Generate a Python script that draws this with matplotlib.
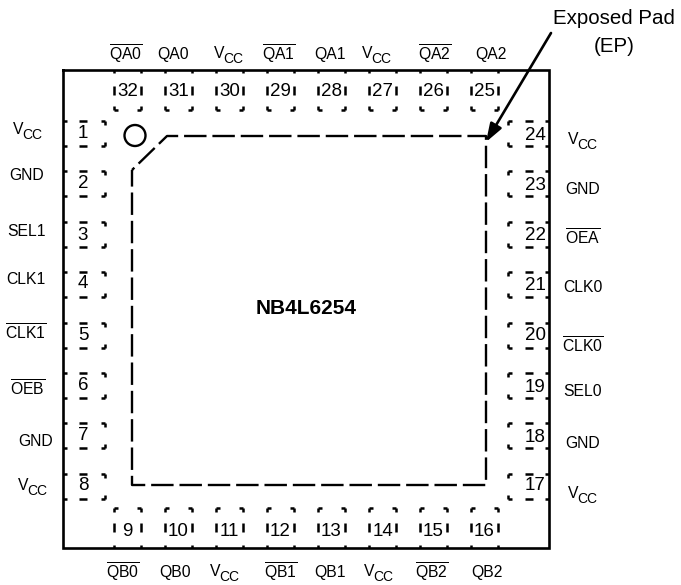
# -*- coding: utf-8 -*-
import matplotlib
matplotlib.use('Agg')
import matplotlib.pyplot as plt
from matplotlib.patches import Circle

plt.rcParams['font.family'] = ['Liberation Sans', 'DejaVu Sans']
plt.rcParams['mathtext.fontset'] = 'custom'
plt.rcParams['mathtext.rm'] = 'Liberation Sans'
plt.rcParams['mathtext.default'] = 'regular'

# pin names
VCC = 'VCC'


def bar(name):
    return r'$\overline{' + name + '}$'


TOP_LABELS = [bar('QA0'), 'QA0', VCC, bar('QA1'), 'QA1', VCC, bar('QA2'), 'QA2']
BOTTOM_LABELS = [bar('QB0'), 'QB0', VCC, bar('QB1'), 'QB1', VCC, bar('QB2'), 'QB2']
LEFT_LABELS = [VCC, 'GND', 'SEL1', 'CLK1', bar('CLK1'), bar('OEB'), 'GND', VCC]
RIGHT_LABELS = [VCC, 'GND', bar('OEA'), 'CLK0', bar('CLK0'), 'SEL0', 'GND', VCC]

# pin numbers
TOP_PINS = [32, 31, 30, 29, 28, 27, 26, 25]
BOTTOM_PINS = [9, 10, 11, 12, 13, 14, 15, 16]
LEFT_PINS = [1, 2, 3, 4, 5, 6, 7, 8]
RIGHT_PINS = [24, 23, 22, 21, 20, 19, 18, 17]

# label centres, pixels
TOP_LABEL_X = [126, 173, 229, 279, 330, 377, 435, 491]
BOTTOM_LABEL_X = [123, 175, 225, 281, 330, 379, 432, 487]
LEFT_LABEL_X = [28, 27, 26, 26, 26, 28, 36, 33]
LEFT_LABEL_Y = [132, 175, 231, 279, 333, 389, 441, 488]
RIGHT_LABEL_Y = [142, 190, 238, 288, 346, 392, 443, 496]
LEFT_NUM_Y = [133, 184, 236, 283, 336, 386, 436, 486]
RIGHT_NUM_Y = [135, 185, 235, 285, 336, 387, 438, 486]

# package geometry, pixels
BOX_L, BOX_T, BOX_R, BOX_B = 63, 70, 549, 548
PAD_X0 = 114
PAD_Y0 = 121
PAD_PITCH_X = 51.0
PAD_PITCH_Y = 50.4
LW = 1.8
LABEL_SIZE = 11.3

fig = plt.figure(figsize=(6.81, 5.85), dpi=100)
ax = fig.add_axes([0, 0, 1, 1])
ax.set_xlim(0, 681)
ax.set_ylim(585, 0)
ax.axis('off')


def seg(x, y, lw=LW):
    ax.plot(x, y, color='black', lw=lw, solid_capstyle='butt', solid_joinstyle='miter')


def horizontal_pad(x0, outer, inner):
    # top and bottom row pads: corners on the inner edge, ticks on the sides
    x1 = x0 + 27
    s = 1 if inner > outer else -1
    for x in (x0, x1):
        seg([x, x], [outer, outer + s * 3])
        seg([x, x], [outer + s * 16, outer + s * 25])
        seg([x, x], [inner - s * 4, inner])
    seg([x0, x0 + 4], [inner, inner])
    seg([x1 - 4, x1], [inner, inner])


def vertical_pad(y0, outer, inner):
    # left and right column pads: corners on the inner edge, dash in the middle
    y1 = y0 + 25
    s = 1 if inner > outer else -1
    for y in (y0, y1):
        seg([outer, outer + s * 4], [y, y])
        seg([outer + s * 16, outer + s * 24], [y, y])
        seg([inner - s * 4, inner], [y, y])
    seg([inner, inner], [y0, y0 + 4])
    seg([inner, inner], [y1 - 4, y1])


def pin_label(x, y, name, vcc_dy=0):
    if name == VCC:
        # V with a subscript CC
        ax.text(x - 10, y - 2 + vcc_dy, 'V', fontsize=LABEL_SIZE, ha='center', va='center')
        ax.text(x - 5.5, y + 3 + vcc_dy, 'CC', fontsize=10, ha='left', va='center')
    else:
        ax.text(x, y, name, fontsize=LABEL_SIZE, ha='center', va='center')


# package outline
ax.plot([BOX_L, BOX_R, BOX_R, BOX_L, BOX_L], [BOX_T, BOX_T, BOX_B, BOX_B, BOX_T],
        color='black', lw=1.9, solid_joinstyle='miter', solid_capstyle='projecting')

# pads and numbers
NUM_FONT = dict(fontsize=13.5, ha='center', va='center')
for i in range(8):
    x0 = PAD_X0 + i * PAD_PITCH_X
    horizontal_pad(x0, BOX_T, 110)
    horizontal_pad(x0, BOX_B, 508)
    ax.text(x0 + 13.5, 91, str(TOP_PINS[i]), **NUM_FONT)
    ax.text(x0 + 13.5, 532, str(BOTTOM_PINS[i]), **NUM_FONT)

    y0 = PAD_Y0 + i * PAD_PITCH_Y
    vertical_pad(y0, BOX_L, 105)
    vertical_pad(y0, BOX_R, 508)
    ax.text(83, LEFT_NUM_Y[i], str(LEFT_PINS[i]), **NUM_FONT)
    ax.text(535, RIGHT_NUM_Y[i], str(RIGHT_PINS[i]), **NUM_FONT)

    pin_label(TOP_LABEL_X[i], 54, TOP_LABELS[i], vcc_dy=2)
    pin_label(BOTTOM_LABEL_X[i], 572, BOTTOM_LABELS[i], vcc_dy=2)
    pin_label(LEFT_LABEL_X[i], LEFT_LABEL_Y[i], LEFT_LABELS[i])
    pin_label(583, RIGHT_LABEL_Y[i], RIGHT_LABELS[i])

# exposed pad outline, dashed
ax.plot([132, 167, 486, 486, 132, 132], [170, 136, 136, 485, 485, 170],
        color='black', lw=1.7, linestyle=(8.1, (9.5, 2.5)), dash_capstyle='butt')

# pin 1 marker
ax.add_patch(Circle((135, 135.5), 10.5, fill=False, edgecolor='black', lw=1.7))

ax.text(306, 309, 'NB4L6254', fontsize=15, fontweight='bold', ha='center', va='center')
ax.text(614, 18, 'Exposed Pad', fontsize=14.8, ha='center', va='center')
ax.text(614, 46, '(EP)', fontsize=14.8, ha='center', va='center')

ax.annotate('', xy=(486, 142), xytext=(551, 33),
            arrowprops=dict(arrowstyle='-|>,head_length=1.1,head_width=0.38', color='black',
                            lw=1.9, shrinkA=0, shrinkB=0))

fig.savefig('out.png', dpi=100)
